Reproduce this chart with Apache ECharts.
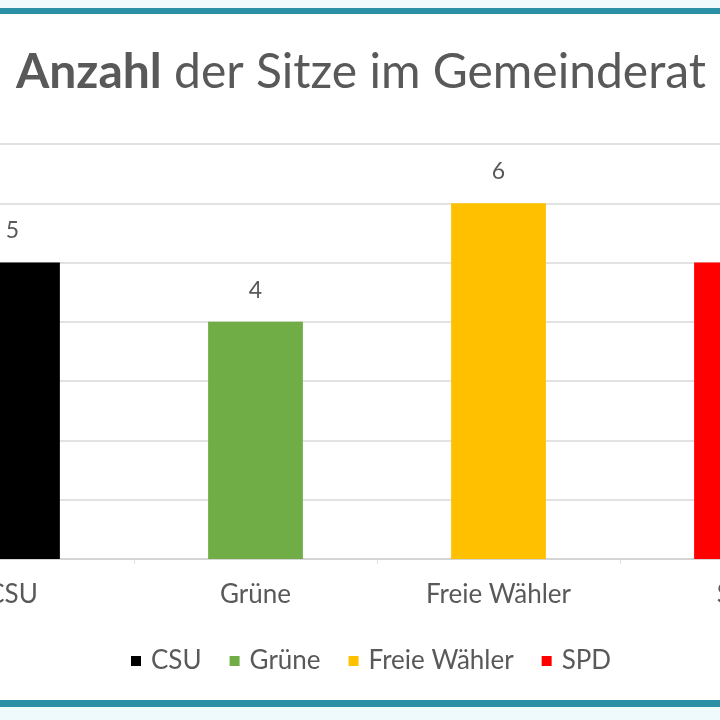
<!DOCTYPE html>
<html>
<head>
<meta charset="utf-8">
<script src="https://cdn.jsdelivr.net/npm/echarts@6/dist/echarts.min.js"></script>
<style>
html,body{margin:0;padding:0;background:#fff;overflow:hidden;width:720px;height:720px;}
#wrap{position:relative;width:720px;height:720px;overflow:hidden;}
#chart{position:absolute;left:-109px;top:0;width:972px;height:720px;}
</style>
</head>
<body>
<div id="wrap"><div id="chart"></div></div>
<script>
const categories = ['CSU', 'Grüne', 'Freie Wähler', 'SPD'];
const seats = [5, 4, 6, 5];
const partyColors = ['#000000', '#70AD47', '#FFC000', '#FF0000'];
const yTicks = [0, 1, 2, 3, 4, 5, 6, 7];

const chart = echarts.init(document.getElementById('chart'));
const FONT = 'Lato';
const OFFSET = 109; // chart canvas starts 109px left of the visible frame
const W = 972;

const series = categories.map((name, i) => ({
  name: name,
  type: 'bar',
  stack: 'seats',
  barWidth: '39%',
  itemStyle: { color: partyColors[i] },
  label: {
    show: true,
    position: 'top',
    distance: 20,
    color: '#595959',
    fontFamily: FONT,
    fontSize: 23
  },
  data: categories.map((c, j) => (j === i ? seats[i] : null))
}));

chart.setOption({
  animation: false,
  backgroundColor: '#ffffff',
  title: {
    text: '{b|Anzahl} der Sitze im Gemeinderat',
    left: 356 + OFFSET,
    textAlign: 'center',
    top: 44,
    textStyle: {
      fontFamily: FONT,
      fontSize: 48,
      fontWeight: 'normal',
      color: '#595959',
      rich: {
        b: { fontFamily: FONT, fontSize: 48, fontWeight: 'bold', color: '#595959' }
      }
    }
  },
  legend: {
    data: categories,
    left: 126 + OFFSET,
    top: 643,
    icon: 'rect',
    itemWidth: 10,
    itemHeight: 10,
    itemGap: 28,
    textStyle: { fontFamily: FONT, fontSize: 26, color: '#595959', padding: [0, 0, 0, 5] }
  },
  grid: { left: 0, right: 0, top: 144, bottom: 161, containLabel: false },
  xAxis: {
    type: 'category',
    data: categories,
    axisLine: { lineStyle: { color: '#d0d0d0', width: 1.5 } },
    axisTick: { show: true, length: 5, lineStyle: { color: '#e0e0e0' } },
    axisLabel: { fontFamily: FONT, fontSize: 26, color: '#595959', margin: 23 }
  },
  yAxis: {
    type: 'value',
    min: yTicks[0],
    max: yTicks[yTicks.length - 1],
    interval: 1,
    axisLabel: { show: false },
    axisLine: { show: false },
    axisTick: { show: false },
    splitLine: { lineStyle: { color: '#d9d9d9', width: 1.5 } }
  },
  graphic: [
    { type: 'rect', shape: { x: 0, y: 0, width: W, height: 8 }, style: { fill: '#eefafc' }, silent: true },
    { type: 'rect', shape: { x: 0, y: 8, width: W, height: 6 }, style: { fill: '#2b8fa6' }, silent: true },
    { type: 'rect', shape: { x: 0, y: 700, width: W, height: 7 }, style: { fill: '#2b8fa6' }, silent: true },
    { type: 'rect', shape: { x: 0, y: 707, width: W, height: 13 }, style: { fill: '#eefafc' }, silent: true }
  ],
  series: series
});
</script>
</body>
</html>
